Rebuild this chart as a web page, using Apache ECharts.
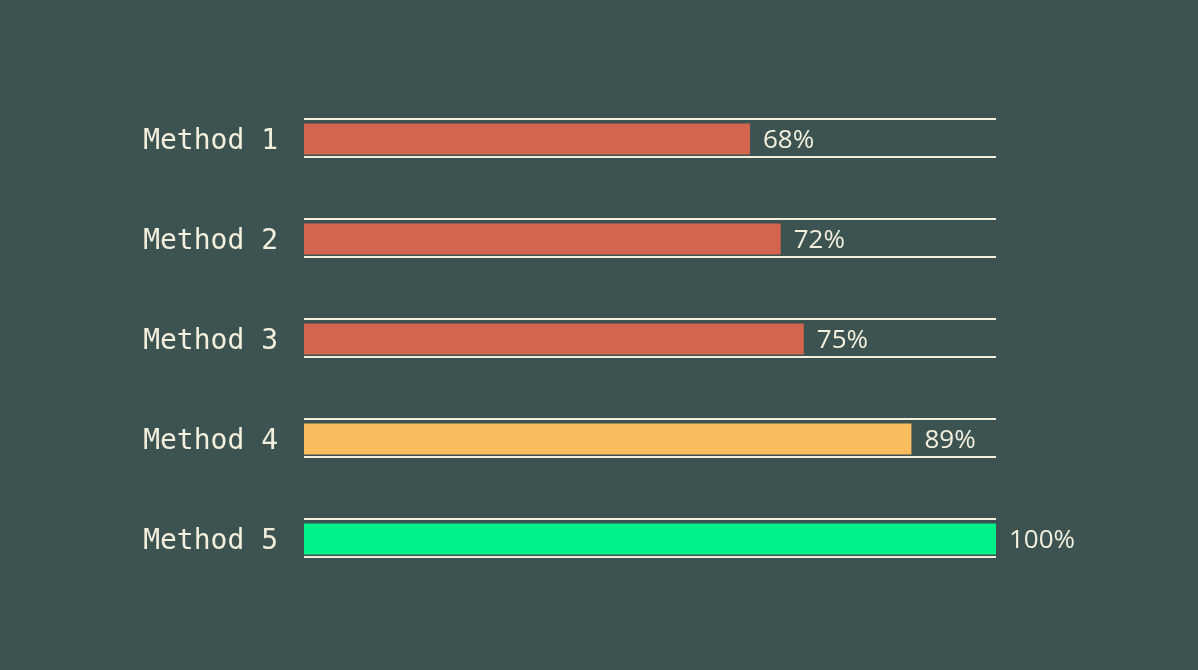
<!DOCTYPE html>
<html><head><meta charset="utf-8">
<script src="https://cdn.jsdelivr.net/npm/echarts@6/dist/echarts.min.js"></script>
<style>html,body{margin:0;padding:0;background:#3c5352;}#c{width:1198px;height:670px;}</style>
</head><body><div id="c"></div>
<script>
const categories = ['Method 1','Method 2','Method 3','Method 4','Method 5'];
const values = [68, 72, 75, 89, 100];
const barColors = ['#d4654f','#d4654f','#d4654f','#fbbc5e','#00f08a'];
const axisMin = 10, axisMax = 100;
const chart = echarts.init(document.getElementById('c'));
chart.setOption({
  backgroundColor: '#3c5352',
  animation: false,
  grid: {left: 304, right: 202, top: 89, bottom: 81},
  xAxis: {type: 'value', min: axisMin, max: axisMax, show: false},
  yAxis: {
    type: 'category', data: categories, inverse: true,
    axisLine: {show: false}, axisTick: {show: false}, splitLine: {show: false},
    axisLabel: {
      color: '#f2efdc', fontFamily: 'DejaVu Sans Mono', fontSize: 28, margin: 26,
      formatter: '{a|{value}}',
      rich: {a: {color: '#f2efdc', fontFamily: 'DejaVu Sans Mono', fontSize: 28, padding: [6, 0, 0, 0]}}
    }
  },
  series: [
    {
      type: 'custom',
      data: categories.map((c, i) => [i]),
      renderItem: function (params, api) {
        const idx = api.value(0);
        const p0 = api.coord([axisMin, idx]);
        const p1 = api.coord([axisMax, idx]);
        const style = {stroke: '#f2efdc', lineWidth: 2};
        return {type: 'group', children: [
          {type: 'line', shape: {x1: p0[0], y1: p0[1] - 20, x2: p1[0], y2: p1[1] - 20}, style: style},
          {type: 'line', shape: {x1: p0[0], y1: p0[1] + 18, x2: p1[0], y2: p1[1] + 18}, style: style}
        ]};
      },
      silent: true, z: 1
    },
    {
      type: 'bar',
      data: values.map((v, i) => ({value: v, itemStyle: {color: barColors[i]}})),
      barWidth: 31,
      z: 2,
      label: {
        show: true, position: 'right', distance: 13, offset: [0, 2],
        formatter: '{c}%', color: '#f2efdc', fontFamily: 'Open Sans', fontSize: 26
      }
    }
  ]
});
</script></body></html>
